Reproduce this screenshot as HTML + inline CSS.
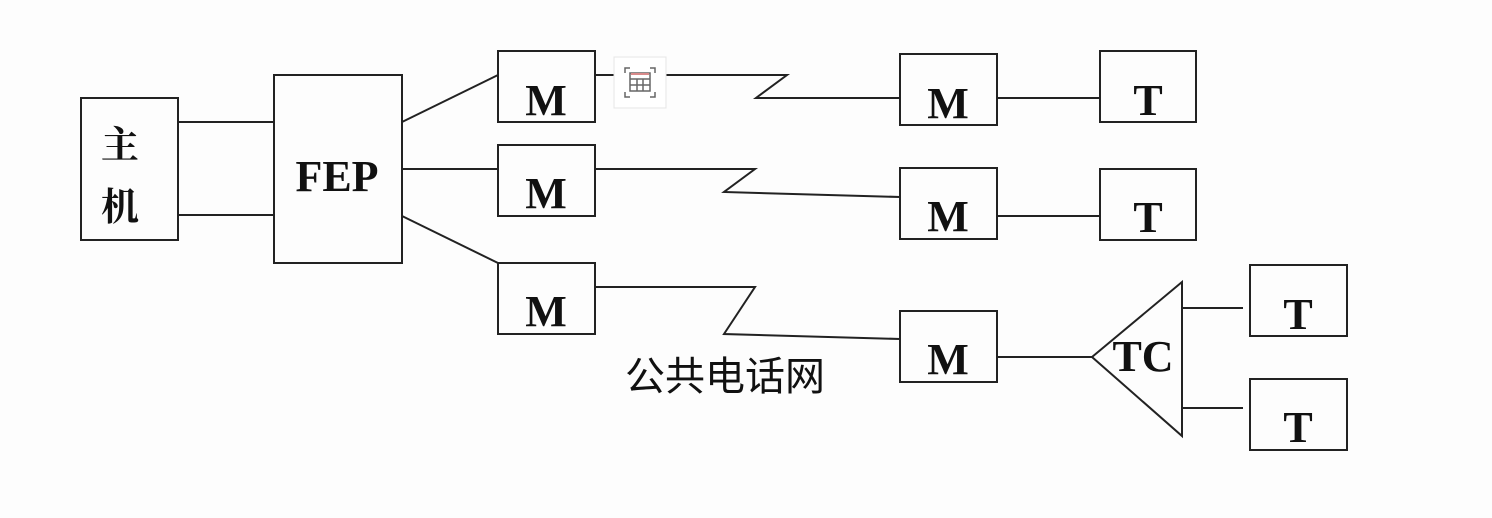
<!DOCTYPE html>
<html><head><meta charset="utf-8"><style>
html,body{margin:0;padding:0;background:#fff;}
svg{display:block;}
.b{font-family:"Liberation Serif",serif;font-weight:bold;font-size:44px;fill:#111;text-anchor:middle;}
</style></head><body>
<svg width="1492" height="518" viewBox="0 0 1492 518" xmlns="http://www.w3.org/2000/svg">
<rect width="1492" height="518" fill="#fdfdfd"/>
<g fill="none" stroke="#222" stroke-width="2">
<rect x="81" y="98" width="97" height="142"/>
<rect x="274" y="75" width="128" height="188"/>
<rect x="498" y="51" width="97" height="71"/>
<rect x="498" y="145" width="97" height="71"/>
<rect x="498" y="263" width="97" height="71"/>
<rect x="900" y="54" width="97" height="71"/>
<rect x="900" y="168" width="97" height="71"/>
<rect x="900" y="311" width="97" height="71"/>
<rect x="1100" y="51" width="96" height="71"/>
<rect x="1100" y="169" width="96" height="71"/>
<rect x="1250" y="265" width="97" height="71"/>
<rect x="1250" y="379" width="97" height="71"/>
<line x1="178" y1="122" x2="274" y2="122"/>
<line x1="178" y1="215" x2="274" y2="215"/>
<line x1="402" y1="122" x2="498" y2="75"/>
<line x1="402" y1="169" x2="498" y2="169"/>
<line x1="402" y1="216" x2="498" y2="263"/>
<polyline points="595,75 787,75 756,98 900,98"/>
<polyline points="595,169 755,169 724,192 900,197"/>
<polyline points="595,287 755,287 724,334 900,339"/>
<line x1="997" y1="98" x2="1100" y2="98"/>
<line x1="997" y1="216" x2="1100" y2="216"/>
<line x1="997" y1="357" x2="1092" y2="357"/>
<polygon points="1092,357 1182,282 1182,436"/>
<line x1="1182" y1="308" x2="1243" y2="308"/>
<line x1="1181" y1="408" x2="1243" y2="408"/>
</g>
<rect x="614" y="57" width="52" height="51" fill="#fff" stroke="#e6e6e6" stroke-width="1"/>
<g fill="none" stroke="#666" stroke-width="1.5">
<polyline points="625,73 625,68 630,68"/><polyline points="650,68 655,68 655,73"/>
<polyline points="625,92 625,97 630,97"/><polyline points="650,97 655,97 655,92"/>
<rect x="630" y="73" width="20" height="18"/>
<line x1="630" y1="79" x2="650" y2="79"/><line x1="630" y1="85" x2="650" y2="85"/>
<line x1="637" y1="79" x2="637" y2="91"/><line x1="643" y1="79" x2="643" y2="91"/>
</g>
<line x1="631" y1="74" x2="649" y2="74" stroke="#d98a8a" stroke-width="2"/>
<text x="120" y="158" style="font-family:'Liberation Serif','Noto Serif CJK SC',serif;font-weight:bold;font-size:38px;fill:#111;text-anchor:middle">主</text>
<text x="120" y="220" style="font-family:'Liberation Serif','Noto Serif CJK SC',serif;font-weight:bold;font-size:38px;fill:#111;text-anchor:middle">机</text>
<text class="b" x="337" y="191">FEP</text>
<text class="b" x="546" y="115">M</text>
<text class="b" x="546" y="208">M</text>
<text class="b" x="546" y="326">M</text>
<text class="b" x="948" y="118">M</text>
<text class="b" x="948" y="231">M</text>
<text class="b" x="948" y="374">M</text>
<text class="b" x="1148" y="115">T</text>
<text class="b" x="1148" y="232">T</text>
<text class="b" x="1298" y="329">T</text>
<text class="b" x="1298" y="442">T</text>
<text class="b" x="1143" y="371">TC</text>
<text x="725" y="390" style="font-family:'Liberation Sans','Noto Sans CJK SC',sans-serif;font-size:40px;fill:#111;text-anchor:middle">公共电话网</text>
</svg>
</body></html>
